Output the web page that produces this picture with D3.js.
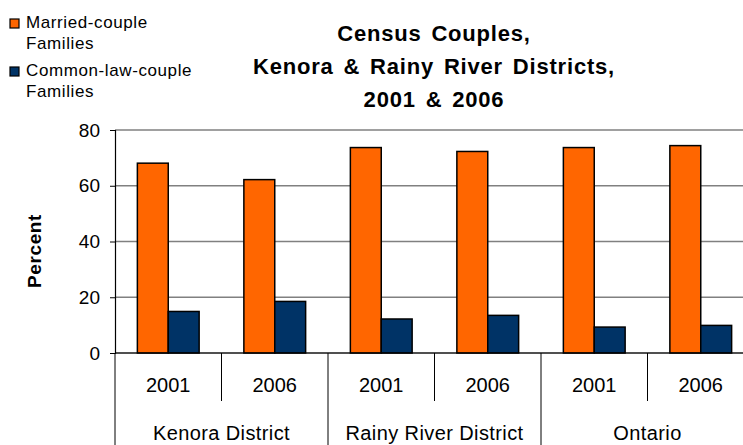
<!DOCTYPE html>
<html>
<head>
<meta charset="utf-8">
<script src="https://cdn.jsdelivr.net/npm/d3@7"></script>
<style>
  body { margin: 0; background: #fff; }
  svg { font-family: "Liberation Sans", Arial, sans-serif; }
</style>
</head>
<body>
<div id="chart"></div>
<script>
const regions = ["Kenora District", "Rainy River District", "Ontario"];
const years = ["2001", "2006"];
const series = ["Married-couple Families", "Common-law-couple Families"];
const married = [68.1, 62.2, 73.7, 72.3, 73.7, 74.4];
const commonLaw = [14.9, 18.5, 12.2, 13.5, 9.3, 9.9];
const yTicks = [0, 20, 40, 60, 80];

const W = 743, H = 445;
const margin = { left: 115, top: 130, right: -11, bottom: 92 };
const width = W - margin.left - margin.right;
const height = H - margin.top - margin.bottom;

const svg = d3.select("#chart").append("svg")
    .attr("width", W)
    .attr("height", H);

// categories are region|year pairs
const cats = [];
regions.forEach(r => years.forEach(y => cats.push({ region: r, year: y })));
const data = cats.map((c, i) => ({ ...c, key: c.region + "|" + c.year, values: [married[i], commonLaw[i]] }));

const x = d3.scaleBand().domain(data.map(d => d.key)).range([0, width]);
const xInner = d3.scaleBand().domain(series).range([x.bandwidth() * 0.21, x.bandwidth() * 0.79]);
const y = d3.scaleLinear().domain([0, 80]).range([height, 0]);
const color = d3.scaleOrdinal().domain(series).range(["#ff6600", "#003366"]);

const g = svg.append("g").attr("transform", `translate(${margin.left},${margin.top})`);

// gridlines
g.selectAll(".grid")
    .data(yTicks)
    .enter().append("line")
    .attr("x1", 0).attr("x2", width)
    .attr("y1", d => y(d)).attr("y2", d => y(d))
    .attr("stroke", "#808080")
    .attr("stroke-width", 1.5);

// y axis
const yAxis = g.append("g")
    .call(d3.axisLeft(y).tickValues(yTicks).tickSize(5).tickPadding(10));
yAxis.select(".domain").attr("stroke", "#000").attr("stroke-width", 1.2);
yAxis.selectAll(".tick line").attr("stroke", "#000");
yAxis.selectAll("text").style("font-size", "19px").attr("fill", "#000");

// bars
const groups = g.selectAll(".cat")
    .data(data)
    .enter().append("g")
    .attr("transform", d => `translate(${x(d.key)},0)`);

groups.selectAll("rect")
    .data(d => d.values.map((v, i) => ({ s: series[i], v })))
    .enter().append("rect")
    .attr("x", d => xInner(d.s))
    .attr("width", xInner.bandwidth())
    .attr("y", d => y(d.v))
    .attr("height", d => height - y(d.v))
    .attr("fill", d => color(d.s))
    .attr("stroke", "#000")
    .attr("stroke-width", 1.5);

// bottom axis line
g.append("line")
    .attr("x1", 0).attr("x2", width)
    .attr("y1", height).attr("y2", height)
    .attr("stroke", "#000").attr("stroke-width", 1.2);

// separators between years and regions
data.forEach((d, i) => {
    const sx = x(d.key);
    const big = i % years.length === 0;
    g.append("line")
        .attr("x1", sx).attr("x2", sx)
        .attr("y1", height).attr("y2", big ? height + 95 : height + 48)
        .attr("stroke", "#000").attr("stroke-width", 1);
});
g.append("line")
    .attr("x1", width).attr("x2", width)
    .attr("y1", height).attr("y2", height + 95)
    .attr("stroke", "#000");

// year labels
g.selectAll(".yr")
    .data(data)
    .enter().append("text")
    .attr("x", d => x(d.key) + x.bandwidth() / 2)
    .attr("y", height + 39)
    .attr("text-anchor", "middle")
    .style("font-size", "20px")
    .text(d => d.year);

// region labels
g.selectAll(".rg")
    .data(regions)
    .enter().append("text")
    .attr("x", (r, i) => x(data[i * 2].key) + x.bandwidth())
    .attr("y", height + 87)
    .attr("text-anchor", "middle")
    .style("font-size", "20px")
    .style("letter-spacing", "0.4px")
    .text(d => d);

// y axis title
svg.append("text")
    .attr("transform", "translate(41,251) rotate(-90)")
    .attr("text-anchor", "middle")
    .style("font-size", "19px")
    .style("font-weight", "bold")
    .style("letter-spacing", "0.6px")
    .text("Percent");

// chart title
const title = ["Census Couples,", "Kenora & Rainy River Districts,", "2001 & 2006"];
svg.selectAll(".title")
    .data(title)
    .enter().append("text")
    .attr("x", 434)
    .attr("y", (d, i) => 41 + i * 33)
    .attr("text-anchor", "middle")
    .style("font-size", "22px")
    .style("font-weight", "bold")
    .style("letter-spacing", "0.8px")
    .style("word-spacing", "3px")
    .text(d => d);

// legend
const legendLines = [["Married-couple", "Families"], ["Common-law-couple", "Families"]];
const legend = svg.selectAll(".legend")
    .data(series)
    .enter().append("g")
    .attr("transform", (d, i) => `translate(10,${19 + i * 48})`);

legend.append("rect")
    .attr("width", 9).attr("height", 9)
    .attr("fill", d => color(d))
    .attr("stroke", "#000")
    .attr("stroke-width", 1.2);

legend.selectAll("text")
    .data((d, i) => legendLines[i])
    .enter().append("text")
    .attr("x", 16)
    .attr("y", (d, i) => 9 + i * 21)
    .style("font-size", "17px")
    .style("letter-spacing", "0.6px")
    .text(d => d);
</script>
</body>
</html>
